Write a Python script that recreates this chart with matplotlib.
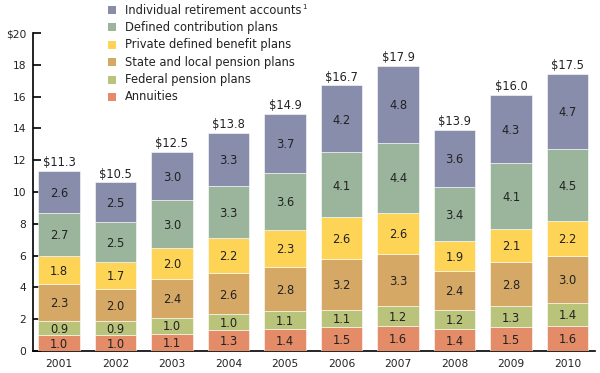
import matplotlib
matplotlib.use("Agg")
import matplotlib.pyplot as plt
from matplotlib.patches import Rectangle

years = ["2001", "2002", "2003", "2004", "2005", "2006", "2007", "2008", "2009", "2010"]
annuities = [1.0, 1.0, 1.1, 1.3, 1.4, 1.5, 1.6, 1.4, 1.5, 1.6]
federal = [0.9, 0.9, 1.0, 1.0, 1.1, 1.1, 1.2, 1.2, 1.3, 1.4]
state_local = [2.3, 2.0, 2.4, 2.6, 2.8, 3.2, 3.3, 2.4, 2.8, 3.0]
private_db = [1.8, 1.7, 2.0, 2.2, 2.3, 2.6, 2.6, 1.9, 2.1, 2.2]
defined_contrib = [2.7, 2.5, 3.0, 3.3, 3.6, 4.1, 4.4, 3.4, 4.1, 4.5]
ira = [2.6, 2.5, 3.0, 3.3, 3.7, 4.2, 4.8, 3.6, 4.3, 4.7]
totals = [11.3, 10.5, 12.5, 13.8, 14.9, 16.7, 17.9, 13.9, 16.0, 17.5]

series_names = ["Annuities", "Federal pension plans", "State and local pension plans",
                "Private defined benefit plans", "Defined contribution plans",
                "Individual retirement accounts"]
series = [annuities, federal, state_local, private_db, defined_contrib, ira]
colors = ["#e48b67", "#b9c37a", "#d5a866", "#fed456", "#9bb59c", "#878dab"]

yticks = [0, 2, 4, 6, 8, 10, 12, 14, 16, 18, 20]
ytick_labels = ["0", "2", "4", "6", "8", "10", "12", "14", "16", "18", "$20"]

plt.rcParams['font.family'] = ['DejaVu Sans']

fig = plt.figure(figsize=(6, 3.73), dpi=100)
ax = fig.add_axes([0.055, 0.059, 0.937, 0.8525])

x = list(range(len(years)))
bottoms = [0.0] * len(years)
for vals, col in zip(series, colors):
    ax.bar(x, vals, width=0.73, bottom=bottoms, color=col, edgecolor="white",
           linewidth=0.4, zorder=3)
    for i, v in enumerate(vals):
        ax.text(i, bottoms[i] + v / 2 - 0.08, f"{v:.1f}", ha="center", va="center",
                fontsize=8.3, color="#222222", zorder=4)
    bottoms = [b + v for b, v in zip(bottoms, vals)]

for i, t in enumerate(totals):
    ax.text(i, bottoms[i] + 0.12, f"${t:.1f}", ha="center", va="bottom",
            fontsize=8.3, color="#222222", zorder=4)

ax.set_xlim(-0.46, 9.49)
ax.set_ylim(0, 20)
ax.set_xticks(x)
ax.set_xticklabels(years, fontsize=7.7, color="#222222")
ax.tick_params(axis="x", length=0, pad=6)
ax.set_yticks(yticks)
ax.set_yticklabels(ytick_labels, fontsize=7.7, color="#222222")
ax.tick_params(axis="y", direction="in", length=6, width=1.2, pad=5)
for s in ["top", "right"]:
    ax.spines[s].set_visible(False)
ax.spines["left"].set_linewidth(1.2)
ax.spines["bottom"].set_linewidth(1.2)
ax.spines["left"].set_zorder(2)
ax.spines["bottom"].set_zorder(2)

# Legend
leg_order = list(range(5, -1, -1))
y0 = 363
for k, idx in enumerate(leg_order):
    ypix = y0 - k * 17.4
    fy = ypix / 373
    fig.patches.append(Rectangle((108 / 600, fy - 4 / 373), 8 / 600, 8 / 373,
                                 transform=fig.transFigure, facecolor=colors[idx],
                                 edgecolor="none"))
    label = series_names[idx]
    t = fig.text(125 / 600, fy, label, fontsize=8.3, va="center", ha="left", color="#222222")
    if idx == 5:
        fig.canvas.draw()
        bb = t.get_window_extent()
        fig.text((bb.x1 + 1) / 600, fy + 3 / 373, "1", fontsize=5, va="center",
                 ha="left", color="#222222")

fig.savefig("out.png", dpi=100)
